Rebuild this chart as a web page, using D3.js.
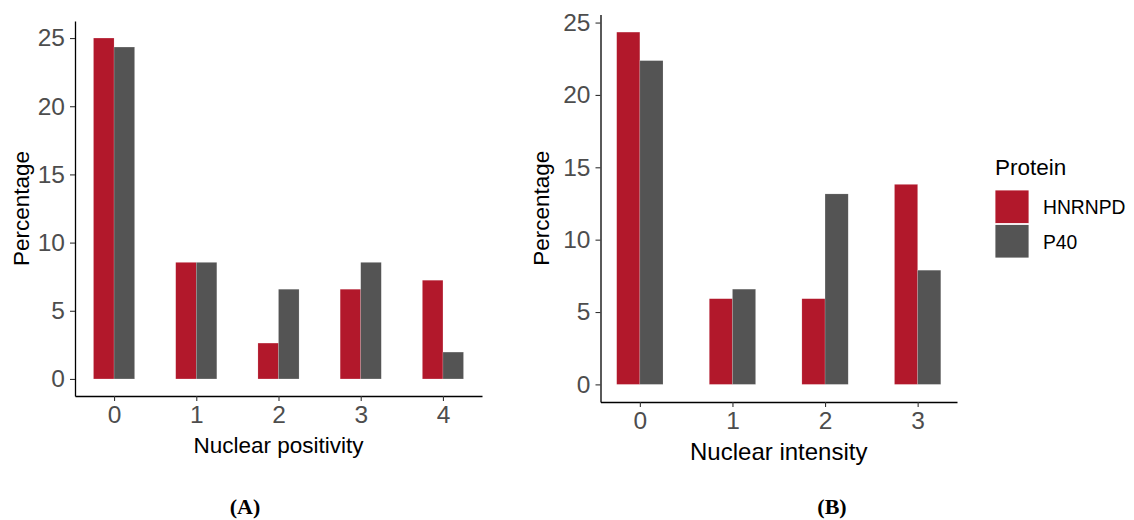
<!DOCTYPE html>
<html>
<head>
<meta charset="utf-8">
<script src="https://cdn.jsdelivr.net/npm/d3@7"></script>
<style>
  body { margin: 0; background: #fff; }
  text { font-family: "Liberation Sans", Arial, sans-serif; }
</style>
</head>
<body>
<script>
// data
var proteins = ["HNRNPD", "P40"];
var colors = ["#B2182B", "#545454"];

var positivityLevels = [0, 1, 2, 3, 4];
var positivityHNRNPD = [25.00, 8.55, 2.63, 6.58, 7.24];
var positivityP40 = [24.34, 8.55, 6.58, 8.55, 1.97];

var intensityLevels = [0, 1, 2, 3];
var intensityHNRNPD = [24.34, 5.92, 5.92, 13.82];
var intensityP40 = [22.37, 6.58, 13.16, 7.89];

var yTicks = [0, 5, 10, 15, 20, 25];

var width = 1134;
var height = 520;

var svg = d3.select("body")
    .append("svg")
    .attr("width", width)
    .attr("height", height);

function drawPanel(p) {
    var x = d3.scaleLinear()
        .domain([p.levels[0] - 0.25 - p.pad, p.levels[p.levels.length - 1] + 0.25 + p.pad])
        .range([p.left, p.right]);
    var ymax = d3.max(p.a.concat(p.b));
    var y = d3.scaleLinear()
        .domain([-ymax * 0.05, ymax * 1.05])
        .range([p.bottom, p.top]);

    var g = svg.append("g");

    // bars, dodged
    var rows = [];
    p.levels.forEach(function (lv, i) {
        rows.push({ x: lv, v: p.a[i], k: 0 });
        rows.push({ x: lv, v: p.b[i], k: 1 });
    });
    g.selectAll("rect")
        .data(rows)
        .enter().append("rect")
        .attr("x", function (d) { return x(d.x - 0.25 + d.k * 0.25); })
        .attr("width", function (d) { return x(0.25) - x(0); })
        .attr("y", function (d) { return y(d.v); })
        .attr("height", function (d) { return y(0) - y(d.v); })
        .attr("fill", function (d) { return colors[d.k]; })
        .attr("stroke", "#fff")
        .attr("stroke-opacity", 0.3)
        .attr("stroke-width", 0.5);

    // axes
    var xAxis = g.append("g")
        .attr("transform", "translate(0," + p.bottom + ")")
        .call(d3.axisBottom(x).tickValues(p.levels).tickFormat(d3.format("d"))
            .tickSizeInner(5).tickSizeOuter(0).tickPadding(5));
    var yAxis = g.append("g")
        .attr("transform", "translate(" + p.left + ",0)")
        .call(d3.axisLeft(y).tickValues(yTicks).tickSizeInner(5).tickSizeOuter(0).tickPadding(5));

    [xAxis, yAxis].forEach(function (a) {
        a.select(".domain").attr("stroke", "#000").attr("stroke-width", 1.3);
        a.selectAll(".tick line").attr("stroke", "#333").attr("stroke-width", 1.1);
        a.selectAll(".tick text")
            .attr("fill", "#4D4D4D")
            .style("font-size", "24.5px")
            .style("font-family", "'Liberation Sans', Arial, sans-serif");
    });

    // axis titles
    g.append("text")
        .attr("x", (p.left + p.right) / 2)
        .attr("y", p.xTitleY)
        .attr("text-anchor", "middle")
        .style("font-size", p.titleSize + "px")
        .text(p.xTitle);
    g.append("text")
        .attr("transform", "translate(" + p.yTitleX + "," + ((p.top + p.bottom) / 2) + ") rotate(-90)")
        .attr("text-anchor", "middle")
        .style("font-size", "22.5px")
        .text("Percentage");

    // panel tag
    g.append("text")
        .attr("x", p.tagX)
        .attr("y", 513.5)
        .attr("text-anchor", "middle")
        .style("font-family", "'Liberation Serif', 'Times New Roman', serif")
        .style("font-weight", "bold")
        .style("font-size", "22px")
        .text(p.tag);
}

drawPanel({
    levels: positivityLevels, a: positivityHNRNPD, b: positivityP40,
    pad: 0.225, left: 75, right: 482, top: 21, bottom: 396,
    xTitle: "Nuclear positivity", xTitleY: 453, titleSize: 22.5, yTitleX: 29,
    tag: "(A)", tagX: 245
});

drawPanel({
    levels: intensityLevels, a: intensityHNRNPD, b: intensityP40,
    pad: 0.175, left: 600.5, right: 957, top: 14.5, bottom: 402,
    xTitle: "Nuclear intensity", xTitleY: 460, titleSize: 24, yTitleX: 549,
    tag: "(B)", tagX: 832
});

// legend
var legend = svg.append("g");
legend.append("text")
    .attr("x", 995)
    .attr("y", 175)
    .style("font-size", "22.5px")
    .text("Protein");
proteins.forEach(function (name, i) {
    legend.append("rect")
        .attr("x", 995)
        .attr("y", 190 + i * 34.5)
        .attr("width", 34)
        .attr("height", 33.5)
        .attr("fill", colors[i])
        .attr("stroke", "#fff")
        .attr("stroke-width", 0.8);
    legend.append("text")
        .attr("x", 1043)
        .attr("y", 214 + i * 35)
        .style("font-size", "19.3px")
        .text(name);
});
</script>
</body>
</html>
